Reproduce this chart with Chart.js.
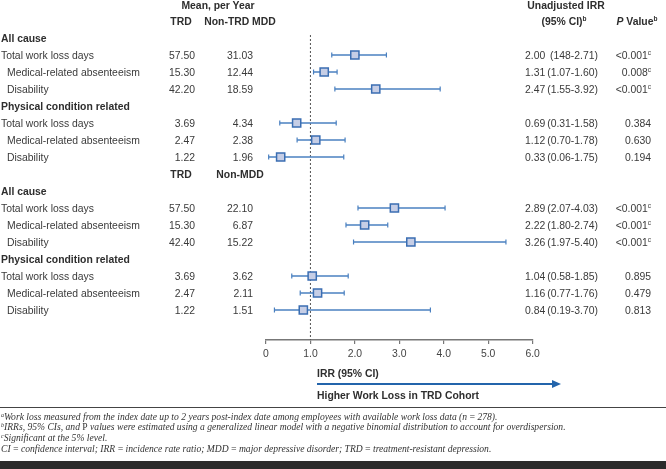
<!DOCTYPE html>
<html>
<head>
<meta charset="utf-8">
<script src="https://cdn.jsdelivr.net/npm/chart.js@4/dist/chart.umd.min.js"></script>
<style>
  body { margin: 0; background: #fff; }
  #wrap { position: relative; width: 666px; height: 469px; overflow: hidden;
          font-family: "Liberation Sans", Arial, sans-serif; color: #3a3a3a; }
  #plot { position: absolute; left: 0; top: 0; }
  .t { position: absolute; white-space: nowrap; font-size: 10.4px; line-height: 13px; }
  .b { font-weight: bold; color: #2e2e2e; }
  .t sup { font-size: 6.5px; line-height: 0; vertical-align: 4px; }
  .fn { position: absolute; left: 1px; white-space: nowrap; font-family: "Liberation Serif", "DejaVu Serif", serif;
        font-style: italic; font-size: 9.6px; line-height: 12px; color: #333; }
  .fn sup { font-size: 6px; line-height: 0; vertical-align: 3px; }
  #rule { position: absolute; left: 0; top: 407px; width: 666px; height: 0; border-top: 1.5px solid #444; }
  #bar { position: absolute; left: 0; top: 461px; width: 666px; height: 8px; background: #2b2b2b; }
  #arrow { position: absolute; left: 317px; top: 383px; width: 236px; height: 2px; background: #2364ab; }
  #arrowhead { position: absolute; left: 552px; top: 380px; width: 0; height: 0;
               border-left: 9px solid #2364ab; border-top: 4px solid transparent; border-bottom: 4px solid transparent; }
</style>
</head>
<body>
<div id="wrap">
  <canvas id="plot" width="666" height="469"></canvas>
  <div id="arrow"></div><div id="arrowhead"></div>
  <div id="rule"></div>
  <div id="bar"></div>
</div>
<script>
// forest plot: work loss, TRD vs comparison cohorts

const rowLabels = ['Total work loss days', 'Medical-related absenteeism', 'Disability',
                   'Total work loss days', 'Medical-related absenteeism', 'Disability',
                   'Total work loss days', 'Medical-related absenteeism', 'Disability',
                   'Total work loss days', 'Medical-related absenteeism', 'Disability'];
const rowIndex = [0, 1, 2, 4, 5, 6, 9, 10, 11, 13, 14, 15];
const groupHeaders = [{ text: 'All cause', row: -1 }, { text: 'Physical condition related', row: 3 },
                      { text: 'All cause', row: 8 }, { text: 'Physical condition related', row: 12 }];

const trdMean = [57.50, 15.30, 42.20, 3.69, 2.47, 1.22, 57.50, 15.30, 42.40, 3.69, 2.47, 1.22];
const compMean = [31.03, 12.44, 18.59, 4.34, 2.38, 1.96, 22.10, 6.87, 15.22, 3.62, 2.11, 1.51];

const irr = [2.00, 1.31, 2.47, 0.69, 1.12, 0.33, 2.89, 2.22, 3.26, 1.04, 1.16, 0.84];
const ciLow = [1.48, 1.07, 1.55, 0.31, 0.70, 0.06, 2.07, 1.80, 1.97, 0.58, 0.77, 0.19];
const ciHigh = [2.71, 1.60, 3.92, 1.58, 1.78, 1.75, 4.03, 2.74, 5.40, 1.85, 1.76, 3.70];
const ciText = ['(148-2.71)', '(1.07-1.60)', '(1.55-3.92)', '(0.31-1.58)', '(0.70-1.78)', '(0.06-1.75)',
                '(2.07-4.03)', '(1.80-2.74)', '(1.97-5.40)', '(0.58-1.85)', '(0.77-1.76)', '(0.19-3.70)'];
const pValues = ['<0.001', '0.008', '<0.001', '0.384', '0.630', '0.194',
                 '<0.001', '<0.001', '<0.001', '0.895', '0.479', '0.813'];
const significant = [true, true, true, false, false, false, true, true, true, false, false, false];

const xTicks = [0, 1, 2, 3, 4, 5, 6];

const footnotes = [
  ['a', 'Work loss measured from the index date up to 2 years post-index date among employees with available work loss data (n\u2009=\u2009278).'],
  ['b', 'IRRs, 95% CIs, and P values were estimated using a generalized linear model with a negative binomial distribution to account for overdispersion.'],
  ['c', 'Significant at the 5% level.'],
  ['', 'CI\u2009=\u2009confidence interval; IRR\u2009=\u2009incidence rate ratio; MDD\u2009=\u2009major depressive disorder; TRD\u2009=\u2009treatment-resistant depression.']
];

// layout: row 0 sits at y=55, rows 17px apart
const ROW0 = 55, PITCH = 17;
const rowY = (r) => ROW0 + r * PITCH;
const Y_MIN = (35 - ROW0) / PITCH;
const Y_MAX = (340 - ROW0) / PITCH;

const wrap = document.getElementById('wrap');

function put(html, x, y, align, cls) {
  const el = document.createElement('div');
  el.className = 't ' + (cls || '');
  el.innerHTML = html;
  el.style.top = (y - 6.5) + 'px';
  if (align === 'right') el.style.right = (666 - x) + 'px';
  else if (align === 'center') { el.style.left = x + 'px'; el.style.transform = 'translateX(-50%)'; }
  else el.style.left = x + 'px';
  wrap.appendChild(el);
}

// column headers
put('Mean, per Year', 218, 5, 'center', 'b');
put('TRD', 181, 21, 'center', 'b');
put('Non-TRD MDD', 240, 21, 'center', 'b');
put('TRD', 181, rowY(7), 'center', 'b');
put('Non-MDD', 240, rowY(7), 'center', 'b');
put('Unadjusted IRR', 566, 5, 'center', 'b');
put('(95% CI)<sup>b</sup>', 564, 21, 'center', 'b');
put('<i>P</i> Value<sup>b</sup>', 637, 21, 'center', 'b');

groupHeaders.forEach((g) => put(g.text, 1, rowY(g.row), 'left', 'b'));

rowLabels.forEach((lab, i) => {
  const y = rowY(rowIndex[i]);
  put(lab, i % 3 === 0 ? 1 : 7, y, 'left');
  put(trdMean[i].toFixed(2), 195, y, 'right');
  put(compMean[i].toFixed(2), 253, y, 'right');
  put(irr[i].toFixed(2), 525, y, 'left');
  put(ciText[i], 598, y, 'right');
  put(pValues[i].replace('<', '&lt;') + (significant[i] ? '<sup>c</sup>' : ''), 651, y, 'right');
});

put('IRR (95% CI)', 317, 373, 'left', 'b');
put('Higher Work Loss in TRD Cohort', 317, 395, 'left', 'b');

footnotes.forEach((f, i) => {
  const el = document.createElement('div');
  el.className = 'fn';
  el.style.top = (410.5 + i * 10.8) + 'px';
  el.innerHTML = (f[0] ? '<sup>' + f[0] + '</sup>' : '') + f[1].replace('(n', '(<i>n</i>').replace('and P', 'and <span style="font-style:normal">P</span>');
  wrap.appendChild(el);
});

// chart datasets
const blue = '#4a80c0';
const datasets = [];

datasets.push({
  data: irr.map((v, i) => ({ x: v, y: rowIndex[i] })),
  pointStyle: 'rect',
  pointRadius: 5.8,
  backgroundColor: '#c6cee6',
  borderColor: '#3b6eb2',
  borderWidth: 1.5
});

irr.forEach((v, i) => {
  datasets.push({
    data: [{ x: ciLow[i], y: rowIndex[i] }, { x: ciHigh[i], y: rowIndex[i] }],
    showLine: true,
    borderColor: blue,
    borderWidth: 1.3,
    pointStyle: 'line',
    rotation: 90,
    pointRadius: 2.6,
    pointBorderColor: blue,
    pointBorderWidth: 1.2
  });
});

datasets.push({
  data: [{ x: 1, y: Y_MIN }, { x: 1, y: Y_MAX }],
  showLine: true,
  borderColor: '#555',
  borderWidth: 1,
  borderDash: [2, 2],
  pointRadius: 0
});

new Chart(document.getElementById('plot'), {
  type: 'scatter',
  data: { datasets: datasets },
  options: {
    responsive: false,
    animation: false,
    events: [],
    layout: { padding: { left: 266, right: 133.4, top: 35, bottom: 99 } },
    plugins: { legend: { display: false }, tooltip: { enabled: false } },
    scales: {
      x: {
        type: 'linear',
        min: 0,
        max: 6,
        afterBuildTicks: (s) => { s.ticks = xTicks.map((v) => ({ value: v })); },
        afterFit: (s) => { s.height = 30; },
        ticks: {
          padding: 4,
          color: '#444',
          font: { family: '"Liberation Sans", Arial, sans-serif', size: 10.4 },
          callback: (v) => (v === 0 ? '0' : v.toFixed(1))
        },
        grid: { drawOnChartArea: false, tickLength: 4, color: '#777', lineWidth: 1.2 },
        border: { color: '#777', width: 1.5 }
      },
      y: {
        type: 'linear',
        display: false,
        reverse: true,
        min: Y_MIN,
        max: Y_MAX
      }
    }
  }
});
</script>
</body>
</html>
